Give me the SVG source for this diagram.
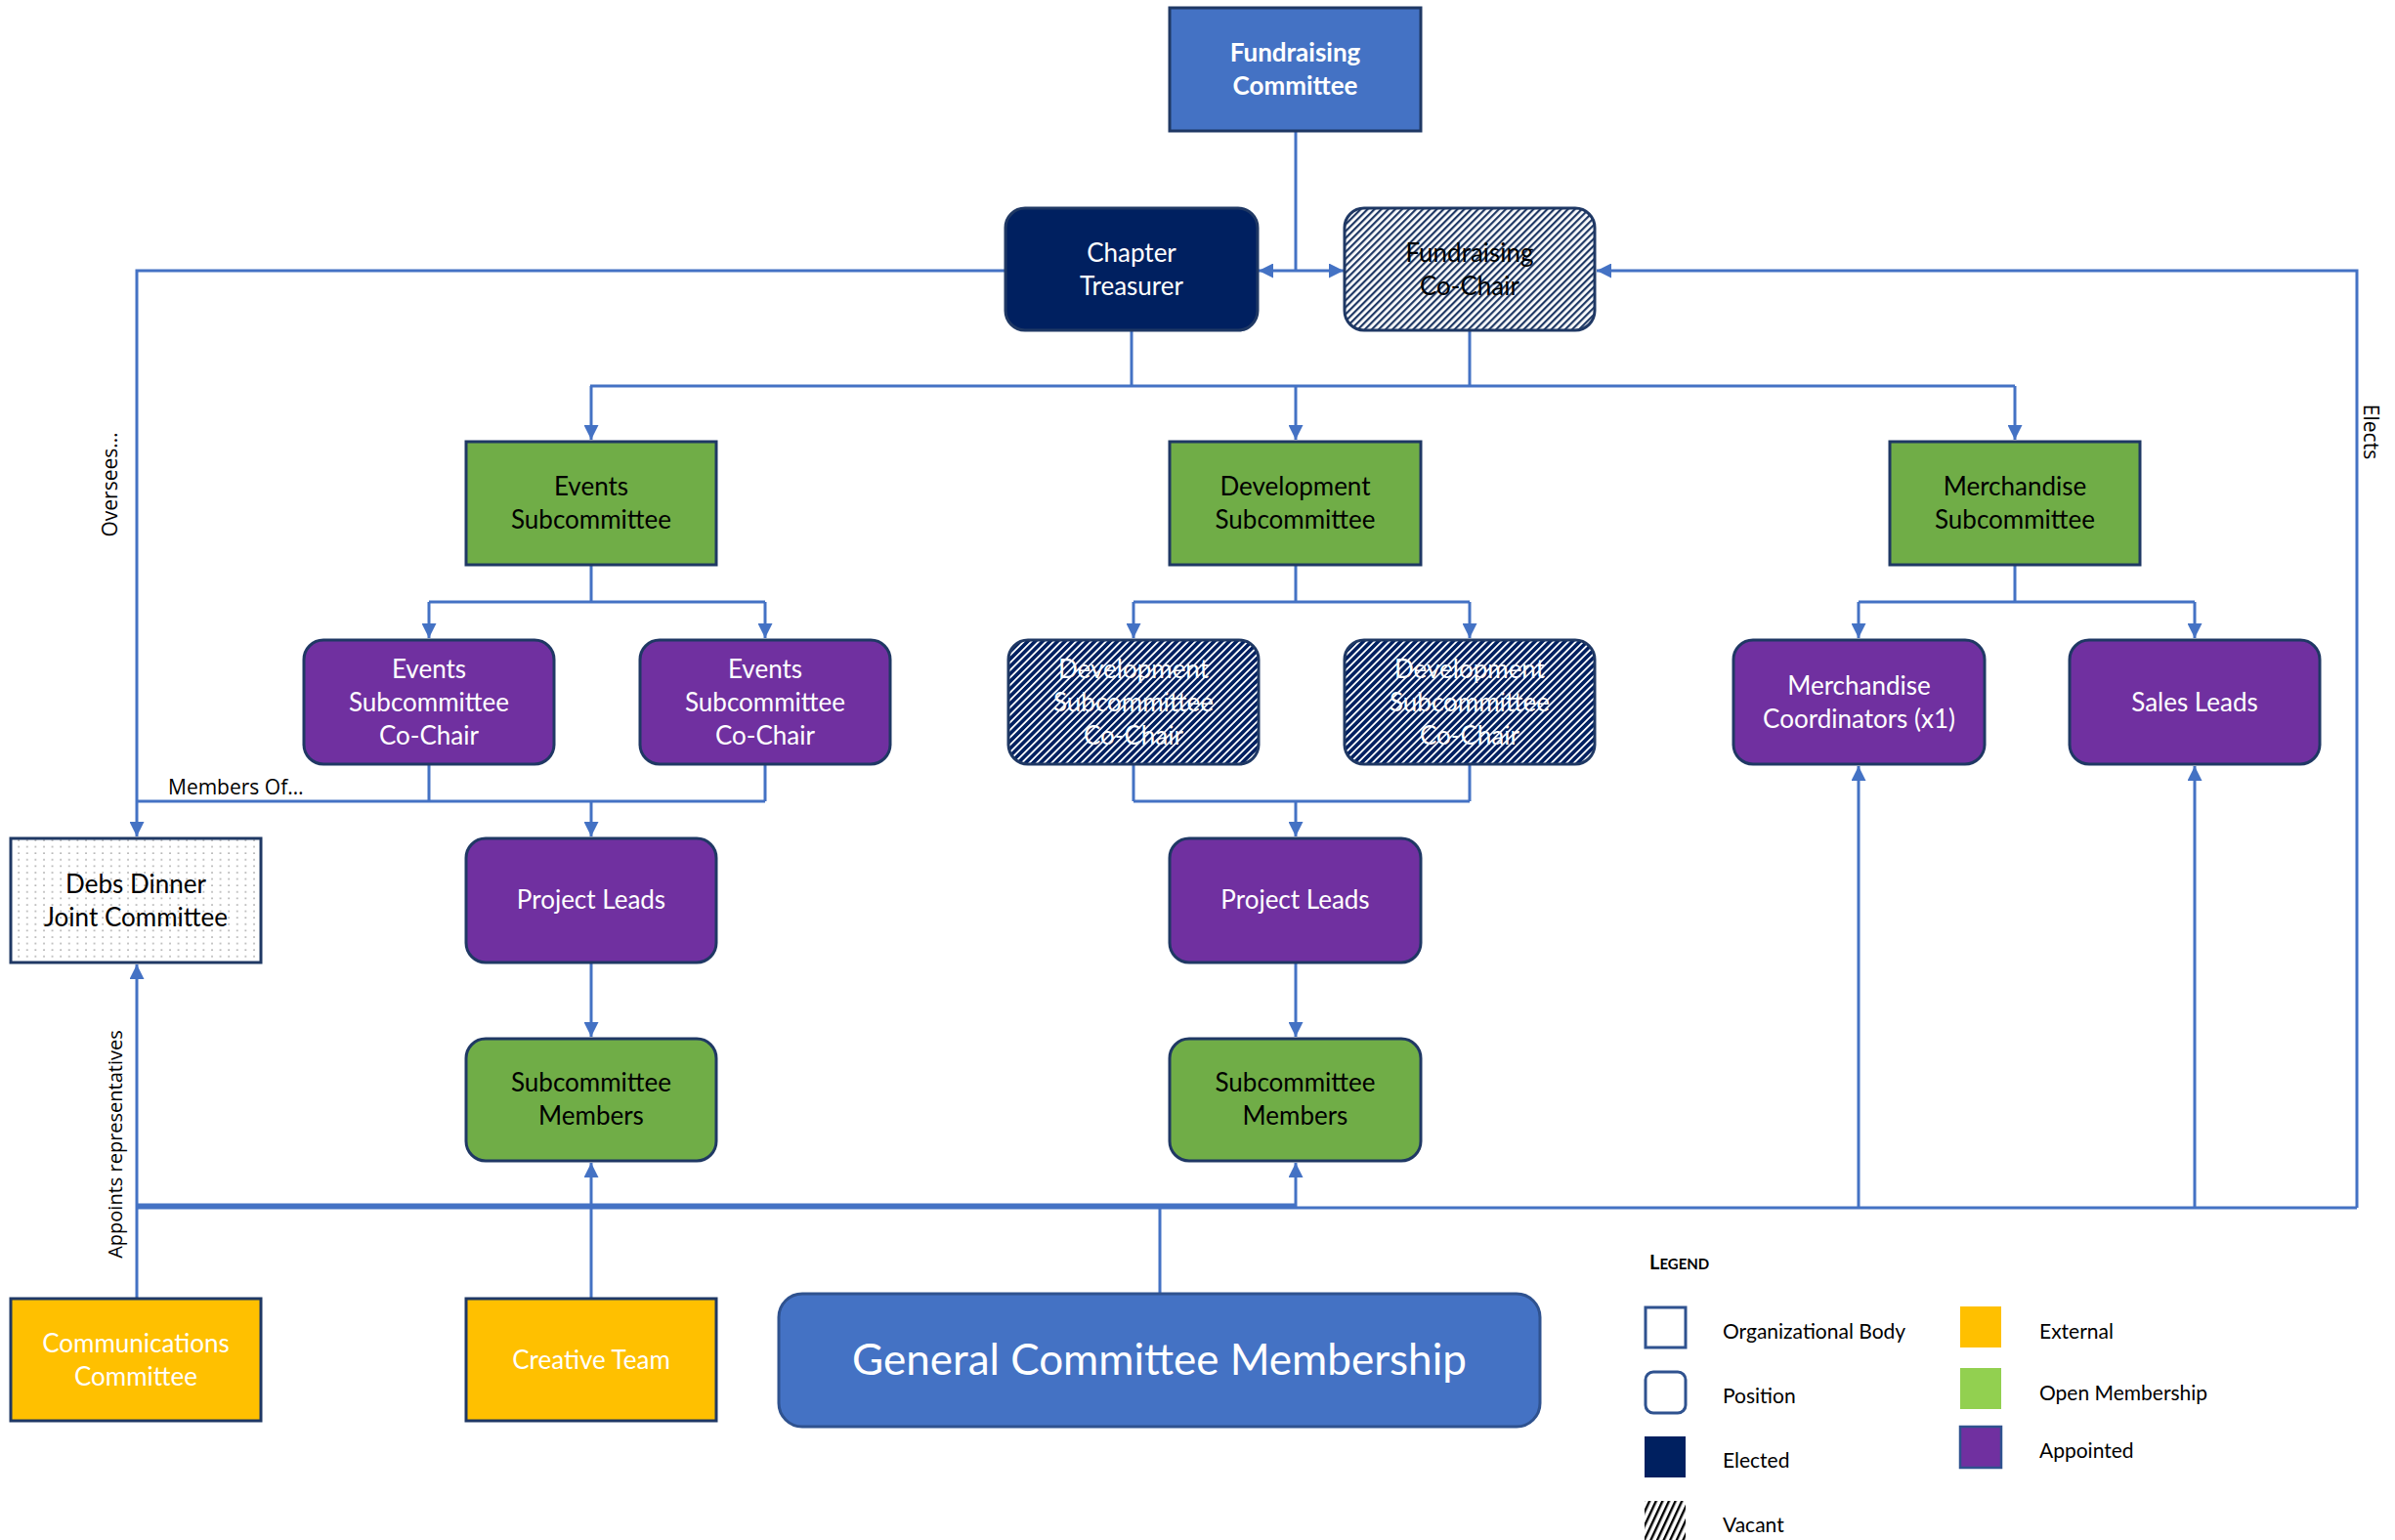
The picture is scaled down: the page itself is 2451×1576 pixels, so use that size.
<svg xmlns="http://www.w3.org/2000/svg" width="2451" height="1576" viewBox="0 0 2451 1576">
<style>
.t{font-family:Lato,"Open Sans","Liberation Sans",sans-serif;font-size:26px;text-anchor:middle}
.w{fill:#fff}
.k{fill:#000}
.b{font-weight:bold}
.box{stroke:#1F3864;stroke-width:3}
.blue{fill:#4472C4}
.navy{fill:#002060}
.green{fill:#70AD47}
.purple{fill:#7030A0}
.yellow{fill:#FFC000}
.c{fill:none;stroke:#4472C4;stroke-width:3}
.a{marker-end:url(#arr)}
.lbl{font-family:"Open Sans","Liberation Sans",sans-serif;font-size:20px;fill:#000;text-anchor:middle}
.lg{font-family:Lato,"Open Sans","Liberation Sans",sans-serif;font-size:21px;fill:#000}
</style>
<defs>
<marker id="arr" viewBox="0 0 10 10" refX="10" refY="5" markerWidth="15" markerHeight="15" markerUnits="userSpaceOnUse" orient="auto">
<path d="M0,0 L10,5 L0,10 z" fill="#4472C4"/>
</marker>
<pattern id="hatchN" width="5" height="5" patternUnits="userSpaceOnUse" patternTransform="rotate(45)">
<rect width="5" height="5" fill="#fff"/><rect width="2.2" height="5" fill="#1F3864"/>
</pattern>
<pattern id="hatchW" width="5.4" height="5.4" patternUnits="userSpaceOnUse" patternTransform="rotate(45)">
<rect width="5.4" height="5.4" fill="#002060"/><rect width="1.8" height="5.4" fill="#fff"/>
</pattern>
<pattern id="hatchK" width="6" height="6" patternUnits="userSpaceOnUse" patternTransform="rotate(25)">
<rect width="6" height="6" fill="#fff"/><rect width="2.4" height="6" fill="#000"/>
</pattern>
<pattern id="dots" width="8.6" height="6.6" patternUnits="userSpaceOnUse">
<rect width="8.6" height="6.6" fill="#fff"/><circle cx="2" cy="2" r="0.9" fill="#9a9a9a"/>
</pattern>
</defs>
<rect width="2451" height="1576" fill="#fff"/>

<g id="connectors">
<path class="c" d="M1326,134 V277"/>
<path class="c a" d="M1326,277 H1288"/>
<path class="c a" d="M1326,277 H1375"/>
<path class="c a" d="M1029,277 H140 V856"/>
<path class="c a" d="M2412,1236 V277 H1634"/>
<path class="c" d="M1158,338 V395 M1504,338 V395 M604,395 H2062"/>
<path class="c a" d="M605,395 V450"/>
<path class="c a" d="M1326,395 V450"/>
<path class="c a" d="M2062,395 V450"/>
<path class="c" d="M605,578 V616 M439,616 H783"/>
<path class="c a" d="M439,616 V653"/>
<path class="c a" d="M783,616 V653"/>
<path class="c" d="M1326,578 V616 M1160,616 H1504"/>
<path class="c a" d="M1160,616 V653"/>
<path class="c a" d="M1504,616 V653"/>
<path class="c" d="M2062,578 V616 M1902,616 H2246"/>
<path class="c a" d="M1902,616 V653"/>
<path class="c a" d="M2246,616 V653"/>
<path class="c" d="M439,782 V820 M783,782 V820 M140,820 H783"/>
<path class="c a" d="M605,820 V856"/>
<path class="c" d="M1160,782 V820 M1504,782 V820 M1160,820 H1504"/>
<path class="c a" d="M1326,820 V856"/>
<path class="c a" d="M605,985 V1061"/>
<path class="c a" d="M1326,985 V1061"/>
<path class="c a" d="M140,1329 V987"/>
<path class="c" d="M140,1236 H2412 M140,1233 H1326 M1187,1324 V1236"/>
<path class="c a" d="M605,1329 V1190"/>
<path class="c a" d="M1326,1236 V1190"/>
<path class="c a" d="M1902,1236 V784"/>
<path class="c a" d="M2246,1236 V784"/>
<text class="lbl" style="font-size:21px;text-anchor:start" x="172" y="813">Members Of…</text>
<text class="lbl" style="font-size:21px" transform="translate(120,496) rotate(-90)">Oversees…</text>
<text class="lbl" transform="translate(125,1171) rotate(-90)">Appoints representatives</text>
<text class="lbl" style="font-size:21px" transform="translate(2419,442) rotate(90)">Elects</text>
</g>

<g id="fundraising-committee">
<rect class="box blue" x="1197" y="8" width="257" height="126"/>
<text class="t w b" x="1325.5" y="63">Fundraising</text>
<text class="t w b" x="1325.5" y="97">Committee</text>
</g>
<g id="chapter-treasurer">
<rect class="box navy" x="1029" y="213" width="258" height="125" rx="20"/>
<text class="t w" x="1158" y="268">Chapter</text>
<text class="t w" x="1158" y="302">Treasurer</text>
</g>
<g id="fundraising-cochair">
<rect class="box" fill="url(#hatchN)" x="1376" y="213" width="256" height="125" rx="20"/>
<text class="t k" x="1504" y="268">Fundraising</text>
<text class="t k" x="1504" y="302">Co-Chair</text>
</g>

<g id="events-subcommittee">
<rect class="box green" x="477" y="452" width="256" height="126"/>
<text class="t k" x="605" y="507">Events</text>
<text class="t k" x="605" y="541">Subcommittee</text>
</g>
<g id="development-subcommittee">
<rect class="box green" x="1197" y="452" width="257" height="126"/>
<text class="t k" x="1325.5" y="507">Development</text>
<text class="t k" x="1325.5" y="541">Subcommittee</text>
</g>
<g id="merchandise-subcommittee">
<rect class="box green" x="1934" y="452" width="256" height="126"/>
<text class="t k" x="2062" y="507">Merchandise</text>
<text class="t k" x="2062" y="541">Subcommittee</text>
</g>

<g id="events-cochair-1">
<rect class="box purple" x="311" y="655" width="256" height="127" rx="20"/>
<text class="t w" x="439" y="694">Events</text>
<text class="t w" x="439" y="728">Subcommittee</text>
<text class="t w" x="439" y="762">Co-Chair</text>
</g>
<g id="events-cochair-2">
<rect class="box purple" x="655" y="655" width="256" height="127" rx="20"/>
<text class="t w" x="783" y="694">Events</text>
<text class="t w" x="783" y="728">Subcommittee</text>
<text class="t w" x="783" y="762">Co-Chair</text>
</g>
<g id="development-cochair-1">
<rect class="box" fill="url(#hatchW)" x="1032" y="655" width="256" height="127" rx="20"/>
<text class="t w" x="1160" y="694">Development</text>
<text class="t w" x="1160" y="728">Subcommittee</text>
<text class="t w" x="1160" y="762">Co-Chair</text>
</g>
<g id="development-cochair-2">
<rect class="box" fill="url(#hatchW)" x="1376" y="655" width="256" height="127" rx="20"/>
<text class="t w" x="1504" y="694">Development</text>
<text class="t w" x="1504" y="728">Subcommittee</text>
<text class="t w" x="1504" y="762">Co-Chair</text>
</g>
<g id="merchandise-coordinators">
<rect class="box purple" x="1774" y="655" width="257" height="127" rx="20"/>
<text class="t w" x="1902.5" y="711">Merchandise</text>
<text class="t w" x="1902.5" y="745">Coordinators (x1)</text>
</g>
<g id="sales-leads">
<rect class="box purple" x="2118" y="655" width="256" height="127" rx="20"/>
<text class="t w" x="2246" y="728">Sales Leads</text>
</g>

<g id="debs-dinner">
<rect class="box" fill="url(#dots)" x="11" y="858" width="256" height="127"/>
<text class="t k" x="139" y="914">Debs Dinner</text>
<text class="t k" x="139" y="948">Joint Committee</text>
</g>
<g id="project-leads-1">
<rect class="box purple" x="477" y="858" width="256" height="127" rx="20"/>
<text class="t w" x="605" y="930">Project Leads</text>
</g>
<g id="project-leads-2">
<rect class="box purple" x="1197" y="858" width="257" height="127" rx="20"/>
<text class="t w" x="1325.5" y="930">Project Leads</text>
</g>
<g id="subcommittee-members-1">
<rect class="box green" x="477" y="1063" width="256" height="125" rx="20"/>
<text class="t k" x="605" y="1117">Subcommittee</text>
<text class="t k" x="605" y="1151">Members</text>
</g>
<g id="subcommittee-members-2">
<rect class="box green" x="1197" y="1063" width="257" height="125" rx="20"/>
<text class="t k" x="1325.5" y="1117">Subcommittee</text>
<text class="t k" x="1325.5" y="1151">Members</text>
</g>

<g id="communications-committee">
<rect class="box yellow" x="11" y="1329" width="256" height="125"/>
<text class="t w" x="139" y="1384">Communications</text>
<text class="t w" x="139" y="1418">Committee</text>
</g>
<g id="creative-team">
<rect class="box yellow" x="477" y="1329" width="256" height="125"/>
<text class="t w" x="605" y="1401">Creative Team</text>
</g>
<g id="general-committee-membership">
<rect class="blue" stroke="#2F528F" stroke-width="3" x="797" y="1324" width="779" height="136" rx="24"/>
<text class="t w" style="font-size:44px" x="1186.5" y="1407">General Committee Membership</text>
</g>

<g id="legend">
<text class="lg b" x="1688" y="1299" style="font-size:20px">L<tspan style="font-size:15px">EGEND</tspan></text>
<rect x="1684" y="1338" width="41" height="41" fill="#fff" stroke="#2F528F" stroke-width="3"/>
<text class="lg" x="1763" y="1370">Organizational Body</text>
<rect x="1684" y="1404" width="41" height="42" rx="8" fill="#fff" stroke="#2F528F" stroke-width="3"/>
<text class="lg" x="1763" y="1436">Position</text>
<rect x="1683" y="1470" width="42" height="42" fill="#002060"/>
<text class="lg" x="1763" y="1502">Elected</text>
<rect x="1683" y="1536" width="42" height="40" fill="url(#hatchK)"/>
<text class="lg" x="1763" y="1568">Vacant</text>
<rect x="2006" y="1337" width="42" height="42" fill="#FFC000"/>
<text class="lg" x="2087" y="1370">External</text>
<rect x="2006" y="1400" width="42" height="42" fill="#92D050"/>
<text class="lg" x="2087" y="1433">Open Membership</text>
<rect x="2006" y="1460" width="42" height="42" fill="#7030A0" stroke="#2F528F" stroke-width="2.5"/>
<text class="lg" x="2087" y="1492">Appointed</text>
</g>
</svg>
